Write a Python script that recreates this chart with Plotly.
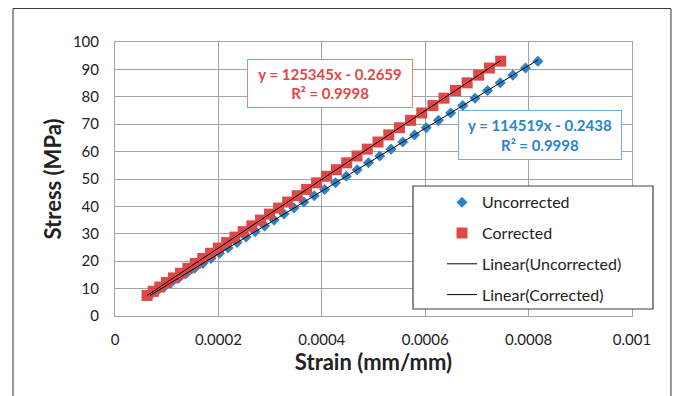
import numpy as np
import plotly.graph_objects as go

# ---- data ----
stress = [7.5, 9.0, 10.6, 12.2, 13.9, 15.6, 17.4, 19.2, 21.0, 22.9, 24.8, 26.8, 28.8,
          30.8, 32.9, 35.0, 37.2, 39.4, 41.6, 43.9, 46.2, 48.6, 51.0, 53.4, 55.9, 58.4,
          60.9, 63.5, 66.1, 68.7, 71.4, 74.1, 76.8, 79.5, 82.3, 85.1, 87.9, 90.5, 93.0]
strain_uncorrected = [67.6e-6, 80.7e-6, 94.7e-6, 108.6e-6, 123.5e-6, 138.3e-6, 154.0e-6,
                      169.7e-6, 185.5e-6, 202.1e-6, 218.6e-6, 236.1e-6, 253.6e-6, 271.0e-6,
                      289.4e-6, 307.7e-6, 326.9e-6, 346.1e-6, 365.3e-6, 385.4e-6, 405.5e-6,
                      426.5e-6, 447.4e-6, 468.4e-6, 490.2e-6, 512.0e-6, 533.9e-6, 556.6e-6,
                      579.3e-6, 602.0e-6, 625.6e-6, 649.1e-6, 672.7e-6, 696.3e-6, 720.7e-6,
                      745.2e-6, 769.6e-6, 794.0e-6, 818.0e-6]
strain_corrected = [62.0e-6, 74.0e-6, 86.7e-6, 99.5e-6, 113.0e-6, 126.6e-6, 141.0e-6,
                    155.3e-6, 169.7e-6, 184.9e-6, 200.0e-6, 216.0e-6, 231.9e-6, 247.9e-6,
                    264.6e-6, 281.4e-6, 298.9e-6, 316.5e-6, 334.0e-6, 352.4e-6, 370.7e-6,
                    389.9e-6, 409.0e-6, 428.2e-6, 448.1e-6, 468.1e-6, 488.0e-6, 508.8e-6,
                    529.5e-6, 550.2e-6, 571.8e-6, 593.3e-6, 614.9e-6, 636.4e-6, 658.7e-6,
                    681.1e-6, 703.4e-6, 724.2e-6, 746.0e-6]
fit_uncorrected = [114519, -0.2438]   # slope, intercept
fit_corrected = [125345, -0.2659]
r2_uncorrected = 0.9998
r2_corrected = 0.9998
x_tickvals = [0, 0.0002, 0.0004, 0.0006, 0.0008, 0.001]
x_ticktext = ["0", "0.0002", "0.0004", "0.0006", "0.0008", "0.001"]
y_tickvals = [0, 10, 20, 30, 40, 50, 60, 70, 80, 90, 100]

BLUE = "#2C84C8"
RED = "#E04848"
FONT = "Lato, 'Open Sans', sans-serif"
GRID = "#A2A2A2"

fig = go.Figure()

fig.add_trace(go.Scatter(
    x=strain_uncorrected, y=stress, mode="markers", name="Uncorrected",
    marker=dict(symbol="diamond", size=8.5, color=BLUE), legendgroup="a"))
fig.add_trace(go.Scatter(
    x=strain_corrected, y=stress, mode="markers", name="Corrected",
    marker=dict(symbol="square", size=11, color=RED), legendgroup="b"))

xu = np.array([min(strain_uncorrected), max(strain_uncorrected)])
xc = np.array([min(strain_corrected), max(strain_corrected)])
fig.add_trace(go.Scatter(
    x=xu, y=fit_uncorrected[0] * xu + fit_uncorrected[1], mode="lines",
    name="Linear(Uncorrected)", line=dict(color="black", width=1), legendgroup="c"))
fig.add_trace(go.Scatter(
    x=xc, y=fit_corrected[0] * xc + fit_corrected[1], mode="lines",
    name="Linear(Corrected)", line=dict(color="black", width=1), legendgroup="d"))

fig.update_layout(
    width=676, height=388,
    margin=dict(l=107, r=52, t=34, b=80),
    paper_bgcolor="white", plot_bgcolor="white",
    font=dict(family=FONT, size=15, color="#222222"),
    showlegend=True,
    legend=dict(x=0.6325, y=0.477, xanchor="left", yanchor="top",
                bgcolor="rgba(0,0,0,0)", borderwidth=0,
                font=dict(size=16, color="#222222"),
                traceorder="grouped", tracegroupgap=7, itemwidth=30),
    xaxis=dict(range=[0, 0.001], tickvals=x_tickvals, ticktext=x_ticktext,
               showgrid=True, gridcolor=GRID, gridwidth=1,
               showline=True, linecolor=GRID, mirror=True, zeroline=False,
               ticks="", tickfont=dict(size=15), ticklabelstandoff=10,
               title=dict(text="<b>Strain (mm/mm)</b>", font=dict(size=22), standoff=5)),
    yaxis=dict(range=[0, 100], tickvals=y_tickvals,
               showgrid=True, gridcolor=GRID, gridwidth=1,
               showline=True, linecolor=GRID, mirror=True, zeroline=False,
               ticks="", tickfont=dict(size=15), ticklabelstandoff=12,
               title=dict(text="<b>Stress (MPa)</b>", font=dict(size=22), standoff=5)),
)

# legend box
fig.add_shape(type="rect", xref="paper", yref="paper",
              x0=(413 - 115) / 517, x1=(653 - 115) / 517,
              y0=(316 - 309) / 274, y1=(316 - 186) / 274,
              line=dict(color="#404040", width=1.2), fillcolor="white", layer="above")

# outer frame
for (x0, y0, x1, y1) in [(-0.1973, 1.122, -0.1973, -0.4), (-0.1973, 1.122, 1.0754, 1.122),
                         (1.0754, 1.122, 1.0754, -0.4)]:
    fig.add_shape(type="line", xref="paper", yref="paper", x0=x0, y0=y0, x1=x1, y1=y1,
                  line=dict(color="#333333", width=1))

fig.add_annotation(
    xref="paper", yref="paper", x=(330 - 115) / 517, y=(316 - 83.5) / 274,
    xanchor="center", yanchor="middle",
    text=f"<b>y = {fit_corrected[0]}x - {abs(fit_corrected[1])}<br>R² = {r2_corrected}</b>",
    showarrow=False, font=dict(size=15, color=RED, family=FONT),
    width=156, height=39,
    bgcolor="white", bordercolor="#E58080", borderwidth=1, borderpad=4)
fig.add_annotation(
    xref="paper", yref="paper", x=(540 - 115) / 517, y=(316 - 135) / 274,
    xanchor="center", yanchor="middle",
    text=f"<b>y = {fit_uncorrected[0]}x - {abs(fit_uncorrected[1])}<br>R² = {r2_uncorrected}</b>",
    showarrow=False, font=dict(size=15, color=BLUE, family=FONT),
    width=154, height=40,
    bgcolor="white", bordercolor="#70AEDC", borderwidth=1, borderpad=4)

fig.write_html("out.html")
